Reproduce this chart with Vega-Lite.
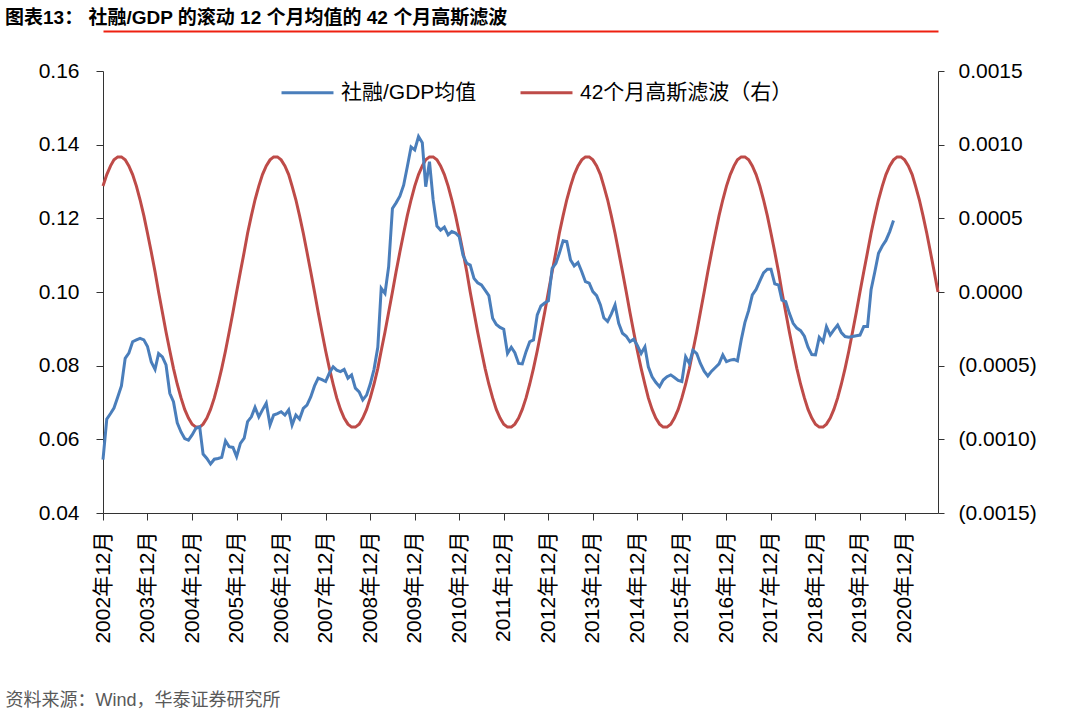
{
  "$schema": "https://vega.github.io/schema/vega-lite/v6.json",
  "width": 835,
  "height": 442,
  "autosize": "none",
  "padding": {"left": 103, "top": 71, "right": 142, "bottom": 201},
  "background": "white",
  "config": {"font": "Liberation Sans, Arial, Noto Sans CJK SC, sans-serif", "view": {"stroke": null}},
  "title": {"text": "图表13：\u00a0社融/GDP 的滚动 12 个月均值的 42 个月高斯滤波", "anchor": "start", "frame": "group", "dx": -98, "offset": 3, "fontSize": 19, "fontWeight": "bold", "color": "#000000"},
  "data": {"values": [
    {"d":"2002-12-01","s":0.0545,"g":0.000719},
    {"d":"2003-01-01","s":0.0655,"g":0.000797},
    {"d":"2003-02-01","s":0.0670,"g":0.000856},
    {"d":"2003-03-01","s":0.0685,"g":0.000897},
    {"d":"2003-04-01","s":0.0715,"g":0.000917},
    {"d":"2003-05-01","s":0.0745,"g":0.000917},
    {"d":"2003-06-01","s":0.0820,"g":0.000897},
    {"d":"2003-07-01","s":0.0834,"g":0.000856},
    {"d":"2003-08-01","s":0.0865,"g":0.000797},
    {"d":"2003-09-01","s":0.0870,"g":0.000719},
    {"d":"2003-10-01","s":0.0874,"g":0.000626},
    {"d":"2003-11-01","s":0.0870,"g":0.000518},
    {"d":"2003-12-01","s":0.0852,"g":0.000399},
    {"d":"2004-01-01","s":0.0810,"g":0.000271},
    {"d":"2004-02-01","s":0.0790,"g":0.000137},
    {"d":"2004-03-01","s":0.0833,"g":0},
    {"d":"2004-04-01","s":0.0824,"g":-0.000137},
    {"d":"2004-05-01","s":0.0802,"g":-0.000271},
    {"d":"2004-06-01","s":0.0725,"g":-0.000399},
    {"d":"2004-07-01","s":0.0702,"g":-0.000518},
    {"d":"2004-08-01","s":0.0645,"g":-0.000626},
    {"d":"2004-09-01","s":0.0620,"g":-0.000719},
    {"d":"2004-10-01","s":0.0602,"g":-0.000797},
    {"d":"2004-11-01","s":0.0598,"g":-0.000856},
    {"d":"2004-12-01","s":0.0612,"g":-0.000897},
    {"d":"2005-01-01","s":0.0630,"g":-0.000917},
    {"d":"2005-02-01","s":0.0634,"g":-0.000917},
    {"d":"2005-03-01","s":0.0560,"g":-0.000897},
    {"d":"2005-04-01","s":0.0548,"g":-0.000856},
    {"d":"2005-05-01","s":0.0533,"g":-0.000797},
    {"d":"2005-06-01","s":0.0546,"g":-0.000719},
    {"d":"2005-07-01","s":0.0548,"g":-0.000626},
    {"d":"2005-08-01","s":0.0551,"g":-0.000518},
    {"d":"2005-09-01","s":0.0596,"g":-0.000399},
    {"d":"2005-10-01","s":0.0580,"g":-0.000271},
    {"d":"2005-11-01","s":0.0578,"g":-0.000137},
    {"d":"2005-12-01","s":0.0553,"g":0},
    {"d":"2006-01-01","s":0.0589,"g":0.000137},
    {"d":"2006-02-01","s":0.0603,"g":0.000271},
    {"d":"2006-03-01","s":0.0648,"g":0.000399},
    {"d":"2006-04-01","s":0.0661,"g":0.000518},
    {"d":"2006-05-01","s":0.0687,"g":0.000626},
    {"d":"2006-06-01","s":0.0661,"g":0.000719},
    {"d":"2006-07-01","s":0.0680,"g":0.000797},
    {"d":"2006-08-01","s":0.0698,"g":0.000856},
    {"d":"2006-09-01","s":0.0639,"g":0.000897},
    {"d":"2006-10-01","s":0.0666,"g":0.000917},
    {"d":"2006-11-01","s":0.0670,"g":0.000917},
    {"d":"2006-12-01","s":0.0675,"g":0.000897},
    {"d":"2007-01-01","s":0.0666,"g":0.000856},
    {"d":"2007-02-01","s":0.0680,"g":0.000797},
    {"d":"2007-03-01","s":0.0639,"g":0.000719},
    {"d":"2007-04-01","s":0.0666,"g":0.000626},
    {"d":"2007-05-01","s":0.0655,"g":0.000518},
    {"d":"2007-06-01","s":0.0684,"g":0.000399},
    {"d":"2007-07-01","s":0.0693,"g":0.000271},
    {"d":"2007-08-01","s":0.0715,"g":0.000137},
    {"d":"2007-09-01","s":0.0745,"g":0},
    {"d":"2007-10-01","s":0.0766,"g":-0.000137},
    {"d":"2007-11-01","s":0.0762,"g":-0.000271},
    {"d":"2007-12-01","s":0.0757,"g":-0.000399},
    {"d":"2008-01-01","s":0.0780,"g":-0.000518},
    {"d":"2008-02-01","s":0.0797,"g":-0.000626},
    {"d":"2008-03-01","s":0.0788,"g":-0.000719},
    {"d":"2008-04-01","s":0.0784,"g":-0.000797},
    {"d":"2008-05-01","s":0.0790,"g":-0.000856},
    {"d":"2008-06-01","s":0.0766,"g":-0.000897},
    {"d":"2008-07-01","s":0.0775,"g":-0.000917},
    {"d":"2008-08-01","s":0.0739,"g":-0.000917},
    {"d":"2008-09-01","s":0.0729,"g":-0.000897},
    {"d":"2008-10-01","s":0.0707,"g":-0.000856},
    {"d":"2008-11-01","s":0.0720,"g":-0.000797},
    {"d":"2008-12-01","s":0.0750,"g":-0.000719},
    {"d":"2009-01-01","s":0.0790,"g":-0.000626},
    {"d":"2009-02-01","s":0.0850,"g":-0.000518},
    {"d":"2009-03-01","s":0.1010,"g":-0.000399},
    {"d":"2009-04-01","s":0.0996,"g":-0.000271},
    {"d":"2009-05-01","s":0.1069,"g":-0.000137},
    {"d":"2009-06-01","s":0.1227,"g":0},
    {"d":"2009-07-01","s":0.1242,"g":0.000137},
    {"d":"2009-08-01","s":0.1260,"g":0.000271},
    {"d":"2009-09-01","s":0.1290,"g":0.000399},
    {"d":"2009-10-01","s":0.1340,"g":0.000518},
    {"d":"2009-11-01","s":0.1394,"g":0.000626},
    {"d":"2009-12-01","s":0.1386,"g":0.000719},
    {"d":"2010-01-01","s":0.1422,"g":0.000797},
    {"d":"2010-02-01","s":0.1405,"g":0.000856},
    {"d":"2010-03-01","s":0.1286,"g":0.000897},
    {"d":"2010-04-01","s":0.1354,"g":0.000917},
    {"d":"2010-05-01","s":0.1250,"g":0.000917},
    {"d":"2010-06-01","s":0.1179,"g":0.000897},
    {"d":"2010-07-01","s":0.1168,"g":0.000856},
    {"d":"2010-08-01","s":0.1176,"g":0.000797},
    {"d":"2010-09-01","s":0.1155,"g":0.000719},
    {"d":"2010-10-01","s":0.1164,"g":0.000626},
    {"d":"2010-11-01","s":0.1160,"g":0.000518},
    {"d":"2010-12-01","s":0.1150,"g":0.000399},
    {"d":"2011-01-01","s":0.1100,"g":0.000271},
    {"d":"2011-02-01","s":0.1078,"g":0.000137},
    {"d":"2011-03-01","s":0.1073,"g":0},
    {"d":"2011-04-01","s":0.1037,"g":-0.000137},
    {"d":"2011-05-01","s":0.1025,"g":-0.000271},
    {"d":"2011-06-01","s":0.1019,"g":-0.000399},
    {"d":"2011-07-01","s":0.1005,"g":-0.000518},
    {"d":"2011-08-01","s":0.0990,"g":-0.000626},
    {"d":"2011-09-01","s":0.0929,"g":-0.000719},
    {"d":"2011-10-01","s":0.0912,"g":-0.000797},
    {"d":"2011-11-01","s":0.0904,"g":-0.000856},
    {"d":"2011-12-01","s":0.0899,"g":-0.000897},
    {"d":"2012-01-01","s":0.0833,"g":-0.000917},
    {"d":"2012-02-01","s":0.0850,"g":-0.000917},
    {"d":"2012-03-01","s":0.0835,"g":-0.000897},
    {"d":"2012-04-01","s":0.0806,"g":-0.000856},
    {"d":"2012-05-01","s":0.0805,"g":-0.000797},
    {"d":"2012-06-01","s":0.0838,"g":-0.000719},
    {"d":"2012-07-01","s":0.0865,"g":-0.000626},
    {"d":"2012-08-01","s":0.0870,"g":-0.000518},
    {"d":"2012-09-01","s":0.0938,"g":-0.000399},
    {"d":"2012-10-01","s":0.0962,"g":-0.000271},
    {"d":"2012-11-01","s":0.0970,"g":-0.000137},
    {"d":"2012-12-01","s":0.0976,"g":0},
    {"d":"2013-01-01","s":0.1064,"g":0.000137},
    {"d":"2013-02-01","s":0.1078,"g":0.000271},
    {"d":"2013-03-01","s":0.1105,"g":0.000399},
    {"d":"2013-04-01","s":0.1139,"g":0.000518},
    {"d":"2013-05-01","s":0.1137,"g":0.000626},
    {"d":"2013-06-01","s":0.1087,"g":0.000719},
    {"d":"2013-07-01","s":0.1071,"g":0.000797},
    {"d":"2013-08-01","s":0.1080,"g":0.000856},
    {"d":"2013-09-01","s":0.1055,"g":0.000897},
    {"d":"2013-10-01","s":0.1028,"g":0.000917},
    {"d":"2013-11-01","s":0.1024,"g":0.000917},
    {"d":"2013-12-01","s":0.1001,"g":0.000897},
    {"d":"2014-01-01","s":0.0990,"g":0.000856},
    {"d":"2014-02-01","s":0.0965,"g":0.000797},
    {"d":"2014-03-01","s":0.0930,"g":0.000719},
    {"d":"2014-04-01","s":0.0920,"g":0.000626},
    {"d":"2014-05-01","s":0.0940,"g":0.000518},
    {"d":"2014-06-01","s":0.0965,"g":0.000399},
    {"d":"2014-07-01","s":0.0915,"g":0.000271},
    {"d":"2014-08-01","s":0.0888,"g":0.000137},
    {"d":"2014-09-01","s":0.0880,"g":0},
    {"d":"2014-10-01","s":0.0865,"g":-0.000137},
    {"d":"2014-11-01","s":0.0872,"g":-0.000271},
    {"d":"2014-12-01","s":0.0855,"g":-0.000399},
    {"d":"2015-01-01","s":0.0833,"g":-0.000518},
    {"d":"2015-02-01","s":0.0851,"g":-0.000626},
    {"d":"2015-03-01","s":0.0797,"g":-0.000719},
    {"d":"2015-04-01","s":0.0770,"g":-0.000797},
    {"d":"2015-05-01","s":0.0755,"g":-0.000856},
    {"d":"2015-06-01","s":0.0743,"g":-0.000897},
    {"d":"2015-07-01","s":0.0761,"g":-0.000917},
    {"d":"2015-08-01","s":0.0770,"g":-0.000917},
    {"d":"2015-09-01","s":0.0775,"g":-0.000897},
    {"d":"2015-10-01","s":0.0768,"g":-0.000856},
    {"d":"2015-11-01","s":0.0760,"g":-0.000797},
    {"d":"2015-12-01","s":0.0757,"g":-0.000719},
    {"d":"2016-01-01","s":0.0824,"g":-0.000626},
    {"d":"2016-02-01","s":0.0806,"g":-0.000518},
    {"d":"2016-03-01","s":0.0842,"g":-0.000399},
    {"d":"2016-04-01","s":0.0833,"g":-0.000271},
    {"d":"2016-05-01","s":0.0806,"g":-0.000137},
    {"d":"2016-06-01","s":0.0785,"g":0},
    {"d":"2016-07-01","s":0.0772,"g":0.000137},
    {"d":"2016-08-01","s":0.0785,"g":0.000271},
    {"d":"2016-09-01","s":0.0795,"g":0.000399},
    {"d":"2016-10-01","s":0.0805,"g":0.000518},
    {"d":"2016-11-01","s":0.0829,"g":0.000626},
    {"d":"2016-12-01","s":0.0811,"g":0.000719},
    {"d":"2017-01-01","s":0.0815,"g":0.000797},
    {"d":"2017-02-01","s":0.0817,"g":0.000856},
    {"d":"2017-03-01","s":0.0813,"g":0.000897},
    {"d":"2017-04-01","s":0.0870,"g":0.000917},
    {"d":"2017-05-01","s":0.0917,"g":0.000917},
    {"d":"2017-06-01","s":0.0950,"g":0.000897},
    {"d":"2017-07-01","s":0.0992,"g":0.000856},
    {"d":"2017-08-01","s":0.1007,"g":0.000797},
    {"d":"2017-09-01","s":0.1030,"g":0.000719},
    {"d":"2017-10-01","s":0.1052,"g":0.000626},
    {"d":"2017-11-01","s":0.1062,"g":0.000518},
    {"d":"2017-12-01","s":0.1062,"g":0.000399},
    {"d":"2018-01-01","s":0.1022,"g":0.000271},
    {"d":"2018-02-01","s":0.1019,"g":0.000137},
    {"d":"2018-03-01","s":0.0978,"g":0},
    {"d":"2018-04-01","s":0.0974,"g":-0.000137},
    {"d":"2018-05-01","s":0.0942,"g":-0.000271},
    {"d":"2018-06-01","s":0.0915,"g":-0.000399},
    {"d":"2018-07-01","s":0.0902,"g":-0.000518},
    {"d":"2018-08-01","s":0.0895,"g":-0.000626},
    {"d":"2018-09-01","s":0.0880,"g":-0.000719},
    {"d":"2018-10-01","s":0.0850,"g":-0.000797},
    {"d":"2018-11-01","s":0.0830,"g":-0.000856},
    {"d":"2018-12-01","s":0.0829,"g":-0.000897},
    {"d":"2019-01-01","s":0.0877,"g":-0.000917},
    {"d":"2019-02-01","s":0.0865,"g":-0.000917},
    {"d":"2019-03-01","s":0.0906,"g":-0.000897},
    {"d":"2019-04-01","s":0.0883,"g":-0.000856},
    {"d":"2019-05-01","s":0.0897,"g":-0.000797},
    {"d":"2019-06-01","s":0.0910,"g":-0.000719},
    {"d":"2019-07-01","s":0.0890,"g":-0.000626},
    {"d":"2019-08-01","s":0.0879,"g":-0.000518},
    {"d":"2019-09-01","s":0.0877,"g":-0.000399},
    {"d":"2019-10-01","s":0.0879,"g":-0.000271},
    {"d":"2019-11-01","s":0.0881,"g":-0.000137},
    {"d":"2019-12-01","s":0.0883,"g":0},
    {"d":"2020-01-01","s":0.0906,"g":0.000137},
    {"d":"2020-02-01","s":0.0906,"g":0.000271},
    {"d":"2020-03-01","s":0.1006,"g":0.000399},
    {"d":"2020-04-01","s":0.1055,"g":0.000518},
    {"d":"2020-05-01","s":0.1105,"g":0.000626},
    {"d":"2020-06-01","s":0.1125,"g":0.000719},
    {"d":"2020-07-01","s":0.1140,"g":0.000797},
    {"d":"2020-08-01","s":0.1164,"g":0.000856},
    {"d":"2020-09-01","s":0.1194,"g":0.000897},
    {"d":"2020-10-01","g":0.000917},
    {"d":"2020-11-01","g":0.000917},
    {"d":"2020-12-01","g":0.000897},
    {"d":"2021-01-01","g":0.000856},
    {"d":"2021-02-01","g":0.000797},
    {"d":"2021-03-01","g":0.000719},
    {"d":"2021-04-01","g":0.000626},
    {"d":"2021-05-01","g":0.000518},
    {"d":"2021-06-01","g":0.000399},
    {"d":"2021-07-01","g":0.000271},
    {"d":"2021-08-01","g":0.000137},
    {"d":"2021-09-01","g":0}
  ]},
  "layer": [
    {
      "mark": {"type": "line", "strokeWidth": 3},
      "encoding": {
        "x": {
          "field": "d",
          "type": "temporal",
          "scale": {"type": "utc", "domain": [{"year": 2002, "month": 12, "date": 1, "utc": true}, {"year": 2021, "month": 9, "date": 1, "utc": true}]},
          "axis": {
            "orient": "top",
            "offset": 40,
            "domainColor": "#EE2010",
            "domainWidth": 2,
            "ticks": false,
            "labels": false,
            "grid": false,
            "title": null
          }
        },
        "y": {
          "field": "g",
          "type": "quantitative",
          "scale": {"domain": [-0.0015, 0.0015], "zero": false, "nice": false},
          "axis": {
            "orient": "right",
            "title": null,
            "values": [-0.0015, -0.001, -0.0005, 0, 0.0005, 0.001, 0.0015],
            "labelExpr": "datum.value < -0.00001 ? '(' + format(-datum.value, '.4f') + ')' : format(abs(datum.value), '.4f')",
            "labelFontSize": 21,
            "labelColor": "#000000",
            "labelPadding": 14,
            "labelOverlap": false,
            "labelFlush": false,
            "grid": false,
            "domainColor": "#333333",
            "tickSize": 6,
            "tickColor": "#333333"
          }
        },
        "color": {
          "datum": "42个月高斯滤波（右）",
          "type": "nominal",
          "scale": {"domain": ["社融/GDP均值", "42个月高斯滤波（右）"], "range": ["#4A7EBB", "#BE4B48"]},
          "legend": {
            "orient": "none",
            "legendX": 177,
            "legendY": -6,
            "direction": "horizontal",
            "title": null,
            "symbolType": "stroke",
            "symbolSize": 2700,
            "symbolStrokeWidth": 3,
            "labelFontSize": 21,
            "labelColor": "#000000",
            "labelOffset": 6,
            "labelLimit": 400,
            "columnPadding": 37
          }
        }
      }
    },
    {
      "mark": {"type": "line", "strokeWidth": 3},
      "encoding": {
        "x": {
          "field": "d",
          "type": "temporal",
          "axis": {
            "orient": "bottom",
            "values": [
              {"year": 2002, "month": 12, "date": 1, "utc": true},
              {"year": 2003, "month": 12, "date": 1, "utc": true},
              {"year": 2004, "month": 12, "date": 1, "utc": true},
              {"year": 2005, "month": 12, "date": 1, "utc": true},
              {"year": 2006, "month": 12, "date": 1, "utc": true},
              {"year": 2007, "month": 12, "date": 1, "utc": true},
              {"year": 2008, "month": 12, "date": 1, "utc": true},
              {"year": 2009, "month": 12, "date": 1, "utc": true},
              {"year": 2010, "month": 12, "date": 1, "utc": true},
              {"year": 2011, "month": 12, "date": 1, "utc": true},
              {"year": 2012, "month": 12, "date": 1, "utc": true},
              {"year": 2013, "month": 12, "date": 1, "utc": true},
              {"year": 2014, "month": 12, "date": 1, "utc": true},
              {"year": 2015, "month": 12, "date": 1, "utc": true},
              {"year": 2016, "month": 12, "date": 1, "utc": true},
              {"year": 2017, "month": 12, "date": 1, "utc": true},
              {"year": 2018, "month": 12, "date": 1, "utc": true},
              {"year": 2019, "month": 12, "date": 1, "utc": true},
              {"year": 2020, "month": 12, "date": 1, "utc": true}
            ],
            "labelExpr": "utcFormat(datum.value, '%Y年%m月')",
            "labelAngle": 270,
            "labelFontSize": 21,
            "labelColor": "#000000",
            "labelPadding": 11,
            "labelOverlap": false,
            "labelFlush": false,
            "tickSize": 7,
            "tickColor": "#333333",
            "domainColor": "#333333",
            "grid": false,
            "title": "资料来源：Wind，华泰证券研究所",
            "titleX": -98,
            "titleY": 187,
            "titleAlign": "left",
            "titleAnchor": "start",
            "titleBaseline": "middle",
            "titleAngle": 0,
            "titleFontSize": 18,
            "titleFontWeight": "normal",
            "titleColor": "#595959"
          }
        },
        "y": {
          "field": "s",
          "type": "quantitative",
          "scale": {"domain": [0.04, 0.16], "zero": false, "nice": false},
          "axis": {
            "orient": "left",
            "title": null,
            "values": [0.04, 0.06, 0.08, 0.1, 0.12, 0.14, 0.16],
            "format": ".2f",
            "labelFontSize": 21,
            "labelColor": "#000000",
            "labelPadding": 17,
            "labelOverlap": false,
            "labelFlush": false,
            "domainColor": "#333333",
            "grid": false,
            "tickSize": 7,
            "tickColor": "#333333"
          }
        },
        "color": {"datum": "社融/GDP均值", "type": "nominal"}
      }
    }
  ],
  "resolve": {"scale": {"y": "independent"}, "axis": {"x": "independent", "y": "independent"}}
}
